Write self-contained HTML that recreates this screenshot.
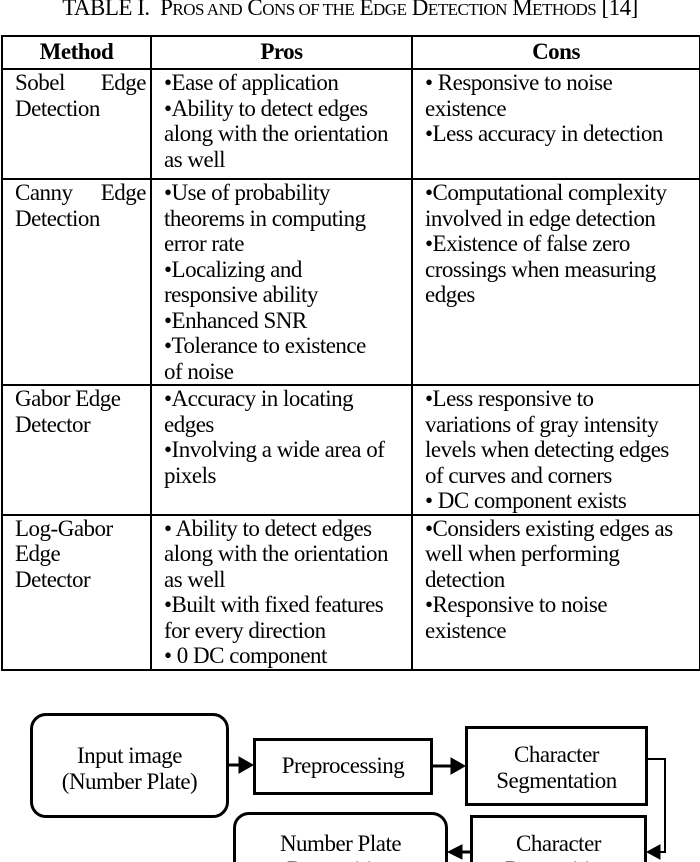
<!DOCTYPE html>
<html style="overflow:hidden;height:862px"><head><style>
body{margin:0;width:700px;height:862px;overflow:hidden;background:#fff;font-family:"Liberation Serif",serif;color:#000;position:relative}
.t{position:absolute;left:0;width:700px;text-align:center;font-size:23px;line-height:22px;top:-3px;letter-spacing:-0.5px;white-space:nowrap}
.t small{font-size:17px}
table{position:absolute;left:1px;top:35px;border-collapse:collapse;font-size:23px;line-height:25.5px;letter-spacing:-0.5px;white-space:nowrap;table-layout:fixed;width:698px}
td,th{border:2px solid #000;vertical-align:top;padding:0 4px 0 12px;text-align:left;overflow:hidden}
th{text-align:center;font-size:23px;height:31px;line-height:30px;padding:0}
.j{display:flex;justify-content:space-between}
.b{position:absolute;border:3px solid #000;box-sizing:border-box;font-size:23px;line-height:26px;text-align:center;background:#fff;letter-spacing:-0.5px;white-space:nowrap}
.clip{position:absolute;left:0;top:0;width:700px;height:862px;overflow:hidden}
</style></head><body>
<div class="t">TABLE I.&nbsp; P<small>ROS AND</small> C<small>ONS OF THE</small> E<small>DGE</small> D<small>ETECTION</small> M<small>ETHODS</small> [14]</div>
<table>
<colgroup><col style="width:149px"><col style="width:261px"><col style="width:288px"></colgroup>
<tr><th>Method</th><th>Pros</th><th>Cons</th></tr>
<tr style="height:110px"><td><div class="j"><span>Sobel</span><span>Edge</span></div>Detection</td><td>•Ease of application<br>•Ability to detect edges<br>along with the orientation<br>as well</td><td>• Responsive to noise<br>existence<br>•Less accuracy in detection</td></tr>
<tr style="height:206px"><td><div class="j"><span>Canny</span><span>Edge</span></div>Detection</td><td>•Use of probability<br>theorems in computing<br>error rate<br>•Localizing and<br>responsive ability<br>•Enhanced SNR<br>•Tolerance to existence<br>of noise</td><td>•Computational complexity<br>involved in edge detection<br>•Existence of false zero<br>crossings when measuring<br>edges</td></tr>
<tr style="height:129px"><td>Gabor Edge<br>Detector</td><td>•Accuracy in locating<br>edges<br>•Involving a wide area of<br>pixels</td><td>•Less responsive to<br>variations of gray intensity<br>levels when detecting edges<br>of curves and corners<br>• DC component exists</td></tr>
<tr style="height:154px"><td>Log-Gabor<br>Edge<br>Detector</td><td>• Ability to detect edges<br>along with the orientation<br>as well<br>•Built with fixed features<br>for every direction<br>• 0 DC component</td><td>•Considers existing edges as<br>well when performing<br>detection<br>•Responsive to noise<br>existence</td></tr>
</table>
<div class="clip">
<div class="b" style="left:30px;top:713px;width:199px;height:105px;border-radius:16px;padding-top:27px">Input image<br>(Number Plate)</div>
<div class="b" style="left:253px;top:738px;width:180px;height:57px;padding-top:12px">Preprocessing</div>
<div class="b" style="left:465px;top:726px;width:183px;height:80px;padding-top:13px">Character<br>Segmentation</div>
<div class="b" style="left:233px;top:812px;width:215px;height:80px;border-radius:16px;padding-top:16px">Number Plate<br>Recognition</div>
<div class="b" style="left:470px;top:815px;width:177px;height:80px;padding-top:13px">Character<br>Recognition</div>
<svg width="700" height="862" style="position:absolute;left:0;top:0">
<g stroke="#000" fill="#000">
<line x1="229" y1="765" x2="240" y2="765" stroke-width="3"/><polygon points="239,757 253,765 239,773"/>
<line x1="433" y1="766" x2="452" y2="766" stroke-width="3"/><polygon points="451,758 465,766 451,774"/>
<polyline points="648,759 665,759 665,852 660,852" fill="none" stroke-width="2"/><polygon points="660,845 647,852 660,859"/>
<line x1="460" y1="852" x2="470" y2="852" stroke-width="3"/><polygon points="462,845 448,852 462,859"/>
</g></svg>
</div>
</body></html>
